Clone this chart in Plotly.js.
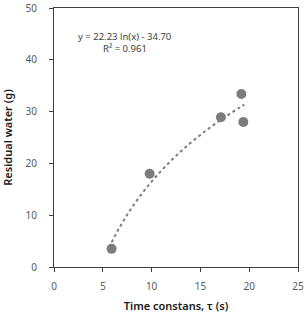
<!DOCTYPE html>
<html>
<head>
<meta charset="utf-8">
<script src="https://cdn.plot.ly/plotly-3.0.1.min.js"></script>
<style>html,body{margin:0;padding:0;background:#fff;}#chart{width:304px;height:313px;}</style>
</head>
<body>
<div id="chart"></div>
<script>
// Measured points
var timeConst = [5.9, 9.8, 17.1, 19.2, 19.4];
var residualWater = [3.5, 18.0, 28.9, 33.4, 28.0];
// Trendline coefficients as printed on the chart: y = a ln(x) + b
var trendA = 22.23;
var trendB = -34.70;
var trendX = [5.9, 6.5, 7, 7.5, 8, 9, 10, 11, 12, 13, 14, 15, 16, 17, 18, 19, 19.5];
var xTicks = [0, 5, 10, 15, 20, 25];
var yTicks = [0, 10, 20, 30, 40, 50];

var trendY = trendX.map(function (x) { return trendA * Math.log(x) + trendB; });

var data = [
  {x: trendX, y: trendY, mode: 'lines', type: 'scatter',
   line: {color: '#7f7f7f', width: 2, dash: 'dot', shape: 'spline'}, hoverinfo: 'skip'},
  {x: timeConst, y: residualWater, mode: 'markers', type: 'scatter',
   marker: {color: '#7c7c7c', size: 10}}
];

var font = {family: 'Noto Sans, Open Sans, sans-serif', size: 10, color: '#595959'};
var titleFont = {family: 'Noto Sans, sans-serif', size: 11, color: '#1a1a1a', weight: 600};
var layout = {
  width: 304, height: 313,
  margin: {l: 54, r: 6, t: 8, b: 46},
  paper_bgcolor: '#ffffff', plot_bgcolor: '#ffffff',
  showlegend: false,
  font: font,
  xaxis: {
    range: [0, 25], tickvals: xTicks, ticktext: xTicks.map(String),
    showgrid: false, zeroline: false, showline: true, linecolor: '#404040', linewidth: 1,
    mirror: true, ticks: 'outside', ticklen: 4, tickcolor: '#404040',
    ticklabelstandoff: 6,
    tickfont: font,
    title: {text: 'Time constans, τ (s)', font: titleFont, standoff: 12}
  },
  yaxis: {
    range: [0, 50], tickvals: yTicks, ticktext: yTicks.map(String),
    showgrid: false, zeroline: false, showline: true, linecolor: '#404040', linewidth: 1,
    mirror: true, ticks: 'outside', ticklen: 4, tickcolor: '#404040',
    ticklabelstandoff: 10,
    tickfont: font,
    title: {text: 'Residual water (g)', font: titleFont, standoff: 14}
  },
  annotations: [
    {xref: 'paper', yref: 'paper', x: 0.287, y: 0.89, xanchor: 'center', yanchor: 'middle', showarrow: false,
     text: 'y = 22.23 ln(x) - 34.70', font: {family: 'Noto Sans, sans-serif', size: 9.5, color: '#404040'}},
    {xref: 'paper', yref: 'paper', x: 0.293, y: 0.845, xanchor: 'center', yanchor: 'middle', showarrow: false,
     text: 'R² = 0.961', font: {family: 'Noto Sans, sans-serif', size: 9.5, color: '#404040'}}
  ]
};

Plotly.newPlot('chart', data, layout, {staticPlot: true, displayModeBar: false});
</script>
</body>
</html>
